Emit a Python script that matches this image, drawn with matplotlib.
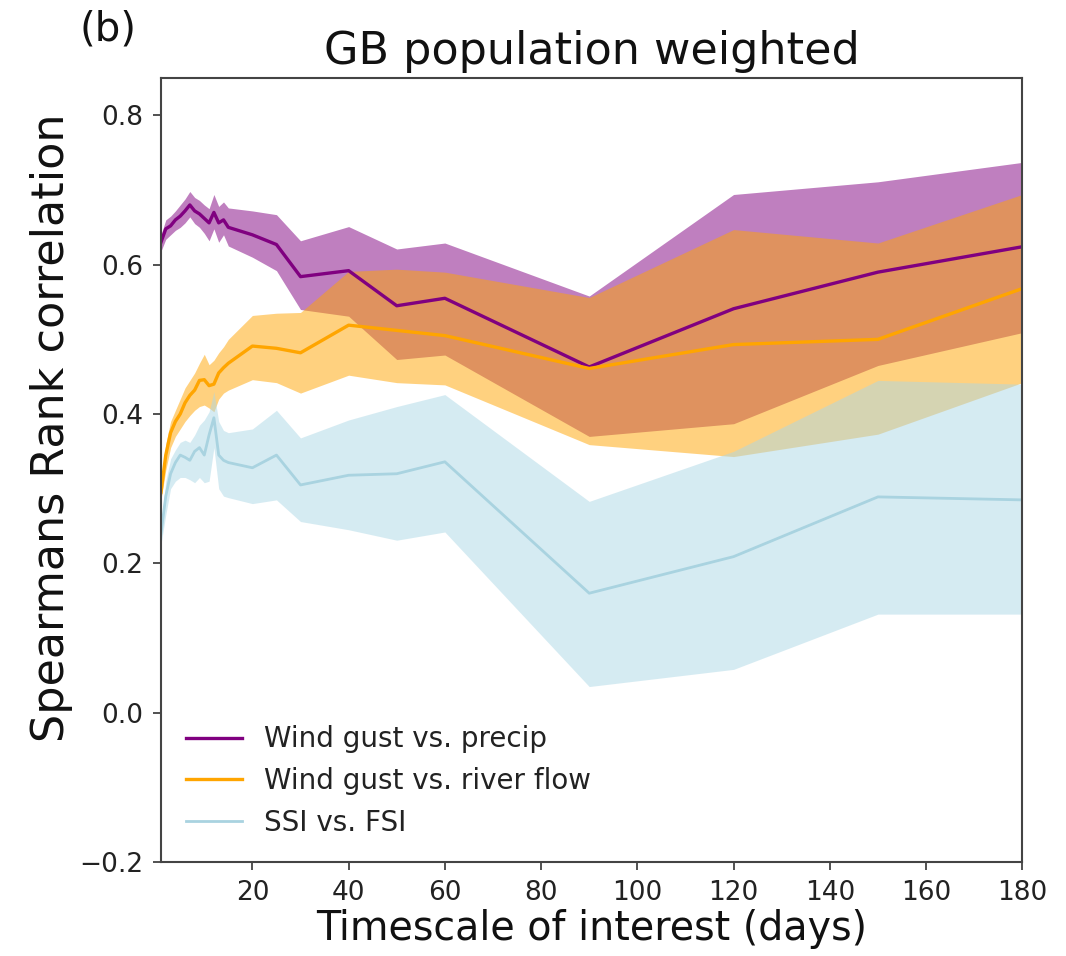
import numpy as np
import matplotlib
matplotlib.use('Agg')
import matplotlib.pyplot as plt

# timescale of interest (days)
days = [1, 2, 3, 4, 5, 6, 7, 8, 9, 10, 11, 12, 13, 14, 15,
        20, 25, 30, 40, 50, 60, 90, 120, 150, 180]

# wind gust vs. precip
precip_mid = [0.630, 0.648, 0.652, 0.660, 0.665, 0.672, 0.680, 0.672, 0.668, 0.662,
              0.656, 0.670, 0.656, 0.660, 0.650, 0.640, 0.627, 0.584, 0.592, 0.545,
              0.555, 0.463, 0.541, 0.590, 0.624]
precip_hi = [0.640, 0.660, 0.665, 0.672, 0.680, 0.688, 0.698, 0.690, 0.686, 0.680,
             0.675, 0.694, 0.678, 0.684, 0.676, 0.672, 0.667, 0.632, 0.651, 0.621,
             0.629, 0.558, 0.694, 0.711, 0.737]
precip_lo = [0.618, 0.634, 0.640, 0.646, 0.650, 0.656, 0.664, 0.655, 0.650, 0.642,
             0.632, 0.648, 0.630, 0.640, 0.625, 0.610, 0.592, 0.540, 0.531, 0.473,
             0.479, 0.370, 0.387, 0.465, 0.509]

# wind gust vs. river flow
river_mid = [0.295, 0.345, 0.375, 0.390, 0.400, 0.415, 0.425, 0.432, 0.445, 0.446,
             0.438, 0.440, 0.455, 0.462, 0.468, 0.491, 0.488, 0.482, 0.519, 0.512,
             0.505, 0.461, 0.493, 0.500, 0.568]
river_hi = [0.305, 0.360, 0.390, 0.405, 0.420, 0.435, 0.445, 0.455, 0.468, 0.480,
            0.466, 0.472, 0.482, 0.490, 0.500, 0.532, 0.535, 0.536, 0.591, 0.594,
            0.590, 0.556, 0.647, 0.629, 0.694]
river_lo = [0.285, 0.325, 0.355, 0.370, 0.380, 0.390, 0.398, 0.405, 0.410, 0.412,
            0.408, 0.403, 0.420, 0.428, 0.432, 0.446, 0.442, 0.428, 0.452, 0.442,
            0.439, 0.359, 0.343, 0.373, 0.442]

# SSI vs. FSI
ssi_mid = [0.240, 0.290, 0.320, 0.335, 0.345, 0.342, 0.338, 0.350, 0.355, 0.345,
           0.372, 0.395, 0.345, 0.338, 0.335, 0.328, 0.345, 0.305, 0.318, 0.320,
           0.336, 0.160, 0.209, 0.289, 0.285]
ssi_hi = [0.250, 0.310, 0.340, 0.352, 0.362, 0.365, 0.362, 0.372, 0.385, 0.392,
          0.403, 0.430, 0.390, 0.378, 0.375, 0.380, 0.405, 0.368, 0.392, 0.410,
          0.426, 0.283, 0.350, 0.445, 0.440]
ssi_lo = [0.225, 0.265, 0.300, 0.310, 0.315, 0.315, 0.312, 0.308, 0.315, 0.308,
          0.310, 0.355, 0.300, 0.290, 0.288, 0.280, 0.285, 0.256, 0.245, 0.231,
          0.242, 0.035, 0.058, 0.132, 0.132]

series = [
    ('Wind gust vs. precip', precip_mid, precip_lo, precip_hi, 'purple', 'purple', 2.4),
    ('Wind gust vs. river flow', river_mid, river_lo, river_hi, 'orange', 'orange', 2.4),
    ('SSI vs. FSI', ssi_mid, ssi_lo, ssi_hi, '#a9d3e0', 'lightblue', 2.0),
]

fig = plt.figure(figsize=(10.66, 9.56), dpi=100)
ax = fig.add_axes([0.151, 0.0983, 0.808, 0.8201])

x = np.array(days)
# shaded ranges first, then the lines on top
for label, mid, lo, hi, lcol, fcol, lw in series:
    ax.fill_between(x, lo, hi, color=fcol, alpha=0.5, linewidth=0)
for label, mid, lo, hi, lcol, fcol, lw in series:
    ax.plot(x, mid, color=lcol, lw=lw, label=label)

ax.set_xlim(1, 180)
ax.set_ylim(-0.2, 0.85)
ax.set_xticks(np.arange(20, 181, 20))
ax.set_yticks(np.arange(-0.2, 0.81, 0.2))
ax.tick_params(labelsize=19, length=6, width=1.2, pad=7,
               color='#333333', labelcolor='#222222')
for s in ax.spines.values():
    s.set_color('#444444')
    s.set_linewidth(1.5)

ax.set_xlabel('Timescale of interest (days)', fontsize=28.5, labelpad=2, color='#111111')
ax.set_ylabel('Spearmans Rank correlation', fontsize=32, color='#111111')
ax.yaxis.set_label_coords(-0.102, 0.554)
ax.set_title('GB population weighted', fontsize=32, pad=10, color='#111111')
fig.text(0.075, 0.99, '(b)', fontsize=29, va='top', ha='left', color='#111111')

ax.legend(loc='lower left', frameon=False, fontsize=20, handlelength=2.0,
          labelcolor='#222222')

fig.savefig('out.png', dpi=100)
